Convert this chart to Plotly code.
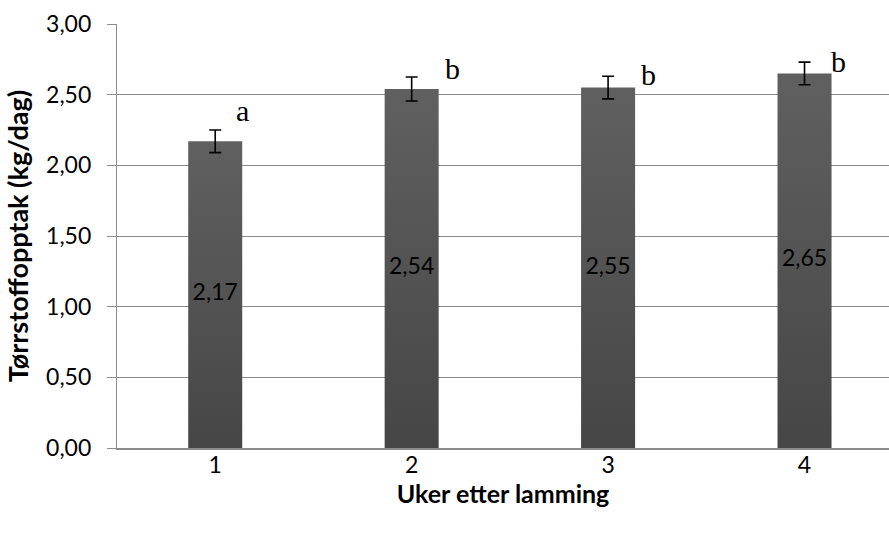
import plotly.graph_objects as go

# Dry matter intake per week after lambing
weeks = ["1", "2", "3", "4"]
intake = [2.17, 2.54, 2.55, 2.65]
intake_err = [0.08, 0.085, 0.08, 0.08]
sig_letters = ["a", "b", "b", "b"]

y_ticks = [0.0, 0.5, 1.0, 1.5, 2.0, 2.5, 3.0]

# pixel offsets for the significance letters (relative to bar top)
letter_dx = [27, 41, 40, 34]
letter_dy = [31, 21, 13, 12]

BAR_W = 0.275
xpos = list(range(1, len(weeks) + 1))


def fmt(v):
    return f"{v:.2f}".replace(".", ",")


fig = go.Figure()

# bars drawn as filled shapes so they can carry a vertical gradient
for x, v in zip(xpos, intake):
    fig.add_trace(go.Scatter(
        x=[x - BAR_W / 2, x + BAR_W / 2, x + BAR_W / 2, x - BAR_W / 2, x - BAR_W / 2],
        y=[0, 0, v, v, 0],
        mode="lines",
        line=dict(width=0, color="rgba(0,0,0,0)"),
        fill="toself",
        fillgradient=dict(type="vertical",
                          colorscale=[[0, "#464646"], [1, "#606060"]]),
        hoverinfo="skip",
        showlegend=False,
    ))

# error bars
fig.add_trace(go.Scatter(
    x=xpos, y=intake, mode="markers",
    marker=dict(size=1, color="rgba(0,0,0,0)"),
    error_y=dict(type="data", array=intake_err, visible=True,
                 color="black", thickness=1.6, width=6),
    showlegend=False, hoverinfo="skip",
))

# value labels in the middle of each bar
fig.add_trace(go.Scatter(
    x=xpos, y=[v / 2 for v in intake], mode="text",
    text=[fmt(v) for v in intake],
    textfont=dict(family="Lato", size=23, color="black"),
    showlegend=False, hoverinfo="skip",
))

for x, v, lab, dx, dy in zip(xpos, intake, sig_letters, letter_dx, letter_dy):
    fig.add_annotation(
        x=x, y=v, text=lab, showarrow=False,
        xshift=dx, yshift=dy, xanchor="center", yanchor="middle",
        font=dict(family="Liberation Serif", size=30, color="black"),
    )

fig.update_layout(
    width=889, height=536,
    margin=dict(l=117, r=0, t=24, b=88),
    paper_bgcolor="white", plot_bgcolor="white",
    showlegend=False,
)

fig.update_xaxes(
    range=[0.5, 4.43],
    tickvals=xpos, ticktext=weeks,
    showgrid=False, zeroline=False,
    showline=True, linecolor="#8c8c8c", linewidth=1.5,
    ticks="", ticklabelstandoff=-4,
    tickfont=dict(family="Lato", size=23, color="black"),
    title=dict(text="<b>Uker etter lamming</b>", standoff=6,
               font=dict(family="Lato", size=25, color="black")),
)

fig.update_yaxes(
    range=[0, 3.0],
    tickvals=y_ticks, ticktext=[fmt(t) for t in y_ticks],
    showgrid=True, gridcolor="#8c8c8c", gridwidth=1.2,
    zeroline=False,
    showline=True, linecolor="#8c8c8c", linewidth=1.2,
    ticks="outside", ticklen=9, tickcolor="#8c8c8c", tickwidth=1.2,
    ticklabelstandoff=11,
    tickfont=dict(family="Lato", size=23, color="black"),
    title=dict(text="<b>Tørrstoffopptak (kg/dag)</b>", standoff=9,
               font=dict(family="Lato", size=27, color="black")),
)

fig.write_html("out.html")
